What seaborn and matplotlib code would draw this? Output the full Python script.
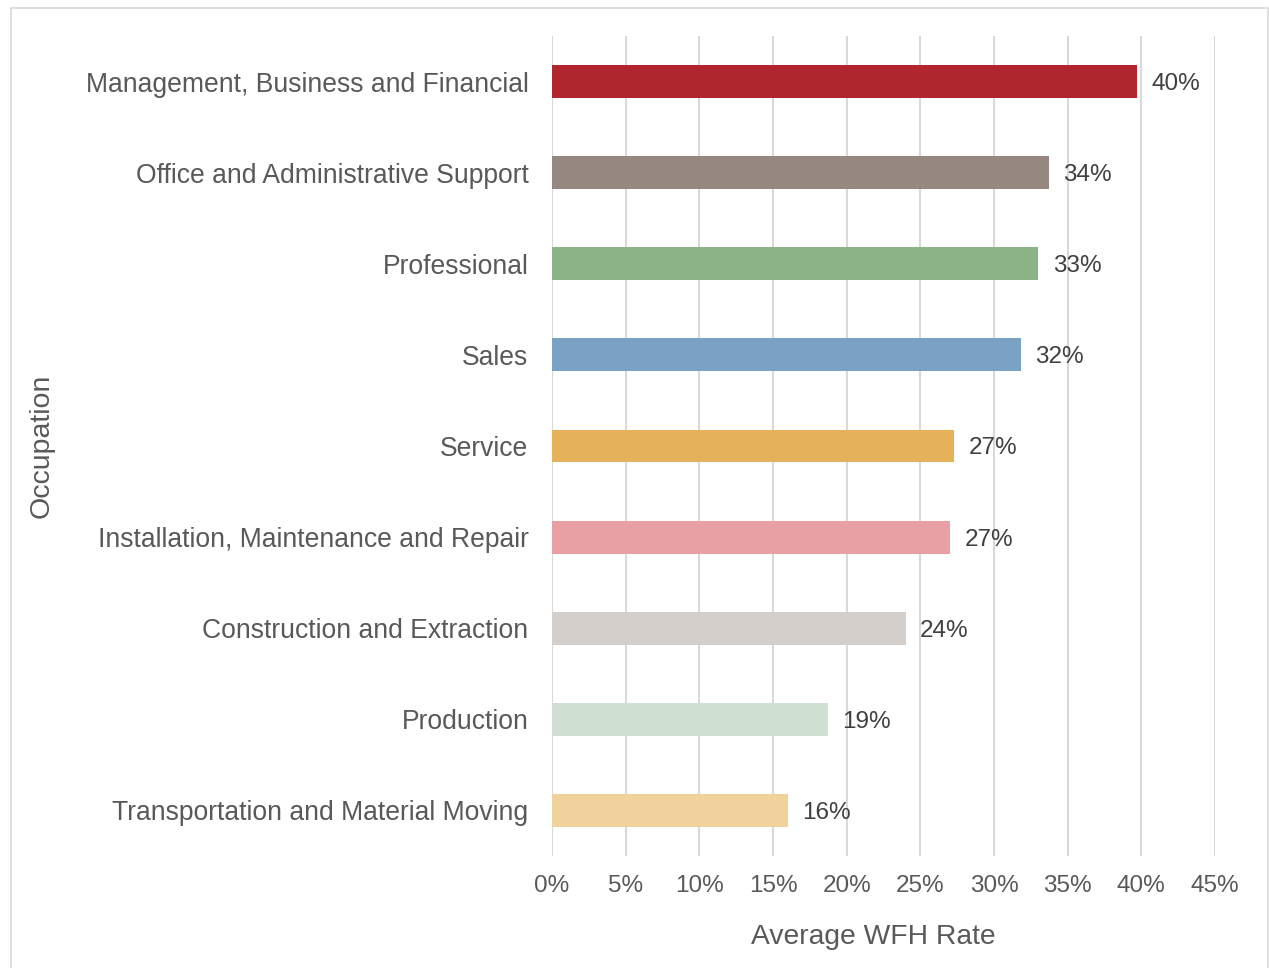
import matplotlib
matplotlib.use("Agg")
import matplotlib.pyplot as plt
from matplotlib.patches import Rectangle
from matplotlib.ticker import PercentFormatter, MultipleLocator
import seaborn as sns
import pandas as pd

occupations = [
    "Management, Business and Financial",
    "Office and Administrative Support",
    "Professional",
    "Sales",
    "Service",
    "Installation, Maintenance and Repair",
    "Construction and Extraction",
    "Production",
    "Transportation and Material Moving",
]
wfh_rate = [0.397, 0.337, 0.330, 0.318, 0.273, 0.270, 0.240, 0.187, 0.160]
bar_colors = [
    "#B0262F", "#968780", "#8AB388", "#7AA2C4", "#E5B25A",
    "#E8A0A4", "#D5CFCC", "#D0E0D3", "#EFD29C",
]

df = pd.DataFrame({"Occupation": occupations, "Rate": wfh_rate})

sns.set_theme(style="white")
plt.rcParams["font.family"] = ["Liberation Sans", "DejaVu Sans"]

fig = plt.figure(figsize=(12.69, 9.68), dpi=100)
ax = fig.add_axes([552 / 1269, 1 - 856 / 968, (1215 - 552) / 1269, (856 - 36) / 968])

sns.barplot(
    data=df, x="Rate", y="Occupation", hue="Occupation",
    palette=bar_colors, legend=False, width=0.36, orient="h",
    saturation=1, linewidth=0, ax=ax, zorder=3,
)

ax.set_xlim(0, 0.45)
ax.xaxis.set_major_locator(MultipleLocator(0.05))
ax.xaxis.set_major_formatter(PercentFormatter(1.0, decimals=0))
ax.grid(axis="x", color="#D9D9D9", linewidth=1.5, zorder=0)
ax.grid(axis="y", visible=False)
for side in ["top", "right", "bottom", "left"]:
    ax.spines[side].set_visible(False)

ax.tick_params(axis="x", length=0, pad=14, labelsize=17.5, labelcolor="#595959")
ax.tick_params(axis="y", length=0, pad=17, labelsize=19.1, labelcolor="#595959")

for container in ax.containers:
    texts = ax.bar_label(container, labels=[f"{v:.0%}" for v in container.datavalues],
                         padding=10.5, fontsize=17.5, color="#404040")
    for t in texts:
        t.set_verticalalignment("center_baseline")

ax.set_xlabel("Average WFH Rate", fontsize=20.3, color="#595959")
ax.xaxis.set_label_coords((873.5 - 552) / (1215 - 552), -(924 - 856) / (856 - 36))
ax.set_ylabel("Occupation", fontsize=20.5, color="#595959")
ax.yaxis.set_label_coords((55 - 552) / (1215 - 552), 0.5)

fig.patches.append(Rectangle((10.5 / 1269, -0.05), (1268 - 10.5) / 1269, 1.05 - 7.5 / 968,
                             transform=fig.transFigure, fill=False,
                             edgecolor="#D9D9D9", linewidth=1.2))

fig.savefig("out.png", dpi=100, facecolor="white")
